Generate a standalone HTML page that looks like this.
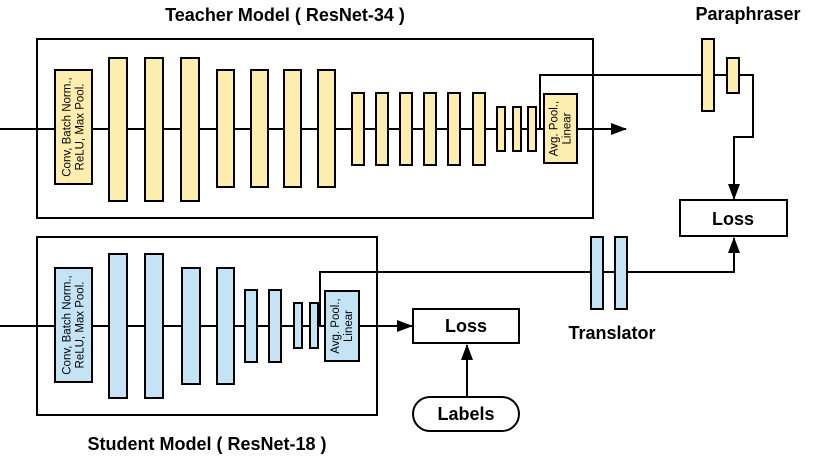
<!DOCTYPE html>
<html><head><meta charset="utf-8"><style>body{margin:0;background:#fff}</style></head><body>
<svg width="830" height="456" viewBox="0 0 830 456" xmlns="http://www.w3.org/2000/svg" font-family="Liberation Sans, sans-serif">
<defs><marker id="a" markerWidth="10" markerHeight="14" refX="9" refY="7" orient="auto" markerUnits="userSpaceOnUse"><path d="M0,2L14,7L0,12z" fill="#000"/></marker>
<marker id="b" markerWidth="16" markerHeight="12" refX="15" refY="6" orient="auto" markerUnits="userSpaceOnUse"><path d="M0,0L16,6L0,12z" fill="#000"/></marker></defs>
<g stroke="#000" stroke-width="2" fill="none">
<rect x="37" y="39" width="556" height="179"/>
<rect x="37" y="237" width="340" height="178"/>
<line x1="0" y1="129" x2="626" y2="129" marker-end="url(#b)"/>
<line x1="0" y1="326" x2="412" y2="326" marker-end="url(#b)"/>
<polyline points="540,129 540,75 753,75 753,137 734,137 734,199" marker-end="url(#b)"/>
<polyline points="320,326 320,272 734,272 734,238" marker-end="url(#b)"/>
<line x1="467" y1="397" x2="467" y2="345" marker-end="url(#b)"/>
</g>
<g stroke="#000" stroke-width="2" fill="#fdeeb0">
<rect x="55" y="70" width="37" height="114"/>
<rect x="109" y="58" width="18" height="143"/><rect x="145" y="58" width="18" height="143"/><rect x="181" y="58" width="18" height="143"/>
<rect x="217" y="70" width="17" height="117"/><rect x="251" y="70" width="17" height="117"/><rect x="284" y="70" width="17" height="117"/><rect x="318" y="70" width="17" height="117"/>
<rect x="352" y="93" width="12" height="72"/><rect x="376" y="93" width="12" height="72"/><rect x="400" y="93" width="12" height="72"/><rect x="424" y="93" width="12" height="72"/><rect x="448" y="93" width="12" height="72"/><rect x="473" y="93" width="12" height="72"/>
<rect x="497" y="107" width="8" height="44"/><rect x="513" y="107" width="8" height="44"/><rect x="528" y="107" width="8" height="44"/>
<rect x="544" y="94" width="33" height="69"/>
<rect x="702" y="39" width="12" height="72"/><rect x="727" y="58" width="12" height="35"/>
</g>
<g stroke="#000" stroke-width="2" fill="#c4e4f6">
<rect x="55" y="268" width="37" height="114"/>
<rect x="109" y="254" width="18" height="144"/><rect x="145" y="254" width="18" height="144"/>
<rect x="182" y="268" width="18" height="116"/><rect x="217" y="268" width="17" height="116"/>
<rect x="245" y="290" width="12" height="72"/><rect x="269" y="290" width="12" height="72"/>
<rect x="294" y="303" width="8" height="45"/><rect x="310" y="303" width="8" height="45"/>
<rect x="325" y="291" width="34" height="70"/>
<rect x="591" y="237" width="12" height="72"/><rect x="615" y="237" width="12" height="72"/>
</g>
<g stroke="#000" stroke-width="2" fill="#fff">
<rect x="680" y="200" width="107" height="36"/>
<rect x="413" y="309" width="106" height="34"/>
<rect x="413" y="397" width="106" height="34" rx="17"/>
</g>
<g font-size="11.5" text-anchor="middle" fill="#000">
<text transform="translate(73.5,127) rotate(-90)"><tspan x="0" y="-3">Conv, Batch Norm.,</tspan><tspan x="0" y="10">ReLU, Max Pool.</tspan></text>
<text transform="translate(73.5,325) rotate(-90)"><tspan x="0" y="-3">Conv, Batch Norm.,</tspan><tspan x="0" y="10">ReLU, Max Pool.</tspan></text>
<text transform="translate(560.5,128.5) rotate(-90)"><tspan x="0" y="-3">Avg. Pool.,</tspan><tspan x="0" y="10">Linear</tspan></text>
<text transform="translate(342,326) rotate(-90)"><tspan x="0" y="-3">Avg. Pool.,</tspan><tspan x="0" y="10">Linear</tspan></text>
</g>
<g font-size="18" font-weight="bold" text-anchor="middle" fill="#000">
<text x="285" y="21">Teacher Model ( ResNet-34 )</text>
<text x="748" y="20">Paraphraser</text>
<text x="733" y="225">Loss</text>
<text x="466" y="332">Loss</text>
<text x="466" y="420">Labels</text>
<text x="612" y="339">Translator</text>
<text x="207" y="450">Student Model ( ResNet-18 )</text>
</g>
</svg>
</body></html>
